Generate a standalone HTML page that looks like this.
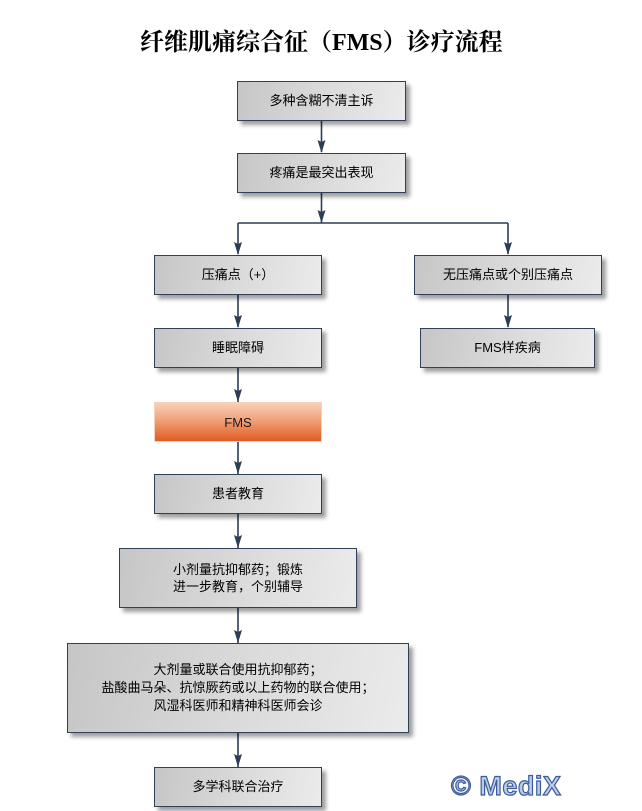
<!DOCTYPE html>
<html>
<head>
<meta charset="utf-8">
<style>
html,body{margin:0;padding:0;background:#fff;}
body{width:642px;height:811px;position:relative;overflow:hidden;font-family:"Liberation Sans","Noto Sans CJK SC",sans-serif;}
.title{position:absolute;left:140px;top:27px;font-family:"Liberation Serif","Noto Serif CJK SC",serif;font-weight:bold;font-size:24px;line-height:32px;color:#000;white-space:nowrap;}
.box{position:absolute;box-sizing:border-box;border:1.5px solid #2f4058;background:linear-gradient(100deg,#c6c6c6 0%,#dadada 50%,#ebebeb 100%);box-shadow:4px 4px 4px rgba(0,0,0,0.38);display:flex;align-items:center;justify-content:center;text-align:center;font-size:13px;line-height:17.5px;color:#000;}
.fms{position:absolute;box-sizing:border-box;border:1px solid #f3d2bf;background:linear-gradient(180deg,#fad0b8 0%,#f0a17a 45%,#e15b22 100%);display:flex;align-items:center;justify-content:center;font-size:13px;color:#1a1a1a;}
svg{position:absolute;left:0;top:0;}
.wm{position:absolute;left:451px;top:771px;font-family:"Liberation Sans",sans-serif;font-weight:bold;font-size:27px;line-height:30px;color:#b9cdea;-webkit-text-stroke:1.2px #3d5c99;letter-spacing:0.5px;white-space:nowrap;}
</style>
</head>
<body>
<div class="title">纤维肌痛综合征（FMS）诊疗流程</div>

<svg width="642" height="811" viewBox="0 0 642 811">
  <g stroke="#2c3e55" stroke-width="1.6" fill="none">
    <line x1="321.5" y1="121" x2="321.5" y2="152"/>
    <line x1="321.5" y1="193" x2="321.5" y2="223"/>
    <line x1="238" y1="223" x2="508" y2="223"/>
    <line x1="238" y1="223" x2="238" y2="254"/>
    <line x1="508" y1="223" x2="508" y2="254"/>
    <line x1="238" y1="295" x2="238" y2="327"/>
    <line x1="508" y1="295" x2="508" y2="327"/>
    <line x1="238" y1="368" x2="238" y2="402"/>
    <line x1="238" y1="442" x2="238" y2="474"/>
    <line x1="238" y1="514" x2="238" y2="548"/>
    <line x1="238" y1="608" x2="238" y2="643"/>
    <line x1="238" y1="733" x2="238" y2="767"/>
  </g>
  <g fill="#2c3e55">
    <polygon points="317.5,140 321.5,142 325.5,140 321.5,153"/>
    <polygon points="317.5,210 321.5,212 325.5,210 321.5,223"/>
    <polygon points="234,242 238,244 242,242 238,255"/>
    <polygon points="504,242 508,244 512,242 508,255"/>
    <polygon points="234,315 238,317 242,315 238,328"/>
    <polygon points="504,315 508,317 512,315 508,328"/>
    <polygon points="234,389 238,391 242,389 238,402"/>
    <polygon points="234,461 238,463 242,461 238,474"/>
    <polygon points="234,535 238,537 242,535 238,548"/>
    <polygon points="234,630 238,632 242,630 238,643"/>
    <polygon points="234,754 238,756 242,754 238,767"/>
  </g>
</svg>

<div class="box" style="left:237px;top:81px;width:169px;height:40px;">多种含糊不清主诉</div>
<div class="box" style="left:237px;top:153px;width:169px;height:40px;">疼痛是最突出表现</div>
<div class="box" style="left:154px;top:255px;width:168px;height:40px;">压痛点（+）</div>
<div class="box" style="left:414px;top:255px;width:188px;height:40px;">无压痛点或个别压痛点</div>
<div class="box" style="left:154px;top:328px;width:168px;height:40px;">睡眠障碍</div>
<div class="box" style="left:420px;top:328px;width:175px;height:40px;">FMS样疾病</div>
<div class="fms" style="left:154px;top:402px;width:168px;height:40px;">FMS</div>
<div class="box" style="left:154px;top:474px;width:168px;height:40px;">患者教育</div>
<div class="box" style="left:119px;top:548px;width:238px;height:60px;">小剂量抗抑郁药；锻炼<br>进一步教育，个别辅导</div>
<div class="box" style="left:67px;top:643px;width:342px;height:90px;line-height:18px;">大剂量或联合使用抗抑郁药；<br>盐酸曲马朵、抗惊厥药或以上药物的联合使用；<br>风湿科医师和精神科医师会诊</div>
<div class="box" style="left:154px;top:767px;width:168px;height:40px;">多学科联合治疗</div>

<div class="wm">© MediX</div>
</body>
</html>
